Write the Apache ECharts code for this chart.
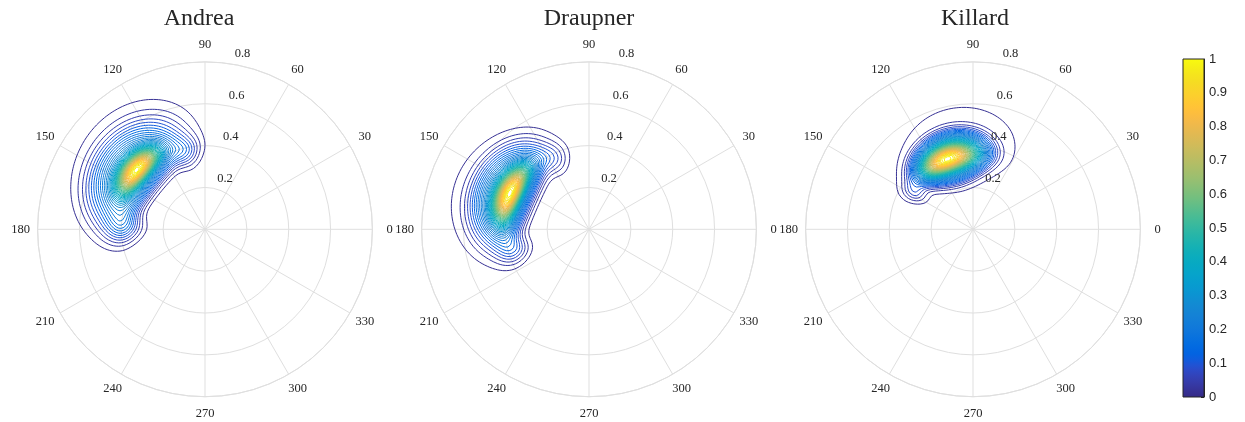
<!DOCTYPE html>
<html>
<head>
<meta charset="utf-8">
<script src="https://cdn.jsdelivr.net/npm/echarts@6/dist/echarts.min.js"></script>
<style>html,body{margin:0;padding:0;background:#fff}#c{width:1245px;height:422px}</style>
</head>
<body>
<div id="c"></div>
<script>
// ---------------- data ----------------
const plotTitles = ['Andrea', 'Draupner', 'Killard'];
const radiusTicks = [0.2, 0.4, 0.6, 0.8];
const contourLevels = [0.02,0.04,0.06,0.08,0.10,0.12,0.14,0.16,0.18,0.20,0.22,0.24,0.26,0.28,0.30,0.32,0.34,0.36,0.38,0.40,
  0.42,0.44,0.46,0.48,0.50,0.52,0.54,0.56,0.58,0.60,0.62,0.64,0.66,0.68,0.70,0.72,0.74,0.76,0.78,0.80,
  0.82,0.84,0.86,0.88,0.90,0.92,0.94,0.96,0.98];
// density kernels:
// [angle (deg), radius, angular spread (deg), inner radial spread, outer radial spread, weight, shape]
const andreaKernels = [
  [139, 0.432, 11, 0.034, 0.040, 0.70, 2],
  [142, 0.420, 27, 0.080, 0.140, 0.30, 3],
  [135, 0.550, 22, 0.120, 0.120, 0.05, 2],
  [178, 0.390, 8, 0.060, 0.060, 0.11, 2],
  [104, 0.380, 7, 0.050, 0.050, 0.08, 2]
];
const draupnerKernels = [
  [155.5, 0.415, 13, 0.035, 0.040, 0.70, 2],
  [156, 0.420, 26, 0.085, 0.118, 0.30, 3],
  [160, 0.530, 22, 0.120, 0.120, 0.04, 2],
  [195, 0.370, 7, 0.050, 0.055, 0.09, 2],
  [116, 0.370, 7, 0.050, 0.050, 0.06, 2]
];
const killardKernels = [
  [110, 0.357, 14, 0.038, 0.042, 0.70, 2],
  [107, 0.360, 25, 0.100, 0.100, 0.30, 4],
  [100, 0.400, 30, 0.150, 0.150, 0.045, 2],
  [148, 0.330, 5, 0.040, 0.040, 0.07, 2]
];
const plotKernels = [andreaKernels, draupnerKernels, killardKernels];

// ---------------- style ----------------
const parula = [
[0.2081,0.1663,0.5292],[0.2116,0.1898,0.5777],[0.2123,0.2138,0.6270],[0.2081,0.2386,0.6771],
[0.1959,0.2645,0.7279],[0.1707,0.2919,0.7792],[0.1253,0.3242,0.8303],[0.0591,0.3598,0.8683],
[0.0117,0.3875,0.8820],[0.0060,0.4086,0.8828],[0.0165,0.4266,0.8786],[0.0329,0.4430,0.8720],
[0.0498,0.4586,0.8641],[0.0629,0.4737,0.8554],[0.0723,0.4887,0.8467],[0.0779,0.5040,0.8384],
[0.0793,0.5200,0.8312],[0.0749,0.5375,0.8263],[0.0641,0.5570,0.8240],[0.0488,0.5772,0.8228],
[0.0343,0.5966,0.8199],[0.0265,0.6137,0.8135],[0.0239,0.6287,0.8038],[0.0231,0.6418,0.7913],
[0.0228,0.6535,0.7768],[0.0267,0.6642,0.7607],[0.0384,0.6743,0.7436],[0.0590,0.6838,0.7254],
[0.0843,0.6928,0.7062],[0.1133,0.7015,0.6859],[0.1453,0.7098,0.6646],[0.1801,0.7177,0.6424],
[0.2178,0.7250,0.6193],[0.2586,0.7317,0.5954],[0.3022,0.7376,0.5712],[0.3482,0.7424,0.5473],
[0.3953,0.7459,0.5244],[0.4420,0.7481,0.5033],[0.4871,0.7491,0.4840],[0.5300,0.7491,0.4661],
[0.5709,0.7485,0.4494],[0.6099,0.7473,0.4337],[0.6473,0.7456,0.4188],[0.6834,0.7435,0.4044],
[0.7184,0.7411,0.3905],[0.7525,0.7384,0.3768],[0.7858,0.7356,0.3633],[0.8185,0.7327,0.3498],
[0.8507,0.7299,0.3360],[0.8824,0.7274,0.3217],[0.9139,0.7258,0.3063],[0.9450,0.7261,0.2886],
[0.9739,0.7314,0.2666],[0.9938,0.7455,0.2403],[0.9990,0.7653,0.2164],[0.9955,0.7861,0.1967],
[0.9880,0.8066,0.1794],[0.9789,0.8271,0.1633],[0.9697,0.8481,0.1475],[0.9626,0.8705,0.1309],
[0.9589,0.8949,0.1132],[0.9598,0.9218,0.0948],[0.9661,0.9514,0.0755],[0.9763,0.9831,0.0538]];
const toHex = c => '#' + c.map(v => Math.round(v * 255).toString(16).padStart(2, '0')).join('');
const colorOf = v => toHex(parula[Math.min(63, Math.max(0, Math.floor(v * 64)))]);

const centersX = [205, 589, 973];
const titleX = [199, 589, 975];
const centerY = 229.3;
const R = 167.4;
const gridColor = '#dfdfdf';
const textColor = '#262626';
const serif = 'Liberation Serif, Times New Roman, serif';

// ---------------- density + contours ----------------
function density(kernels, x, y) {
  const r = Math.hypot(x, y);
  let t = Math.atan2(y, x) * 180 / Math.PI; if (t < 0) t += 360;
  let s = 0;
  for (const k of kernels) {
    const dt = (((t - k[0]) % 360) + 540) % 360 - 180;
    const dr = r - k[1];
    const sr = dr < 0 ? k[3] : k[4];
    const q2 = (dt / k[2]) ** 2 + (dr / sr) ** 2;
    s += k[5] * Math.exp(-0.5 * Math.pow(q2, k[6] / 2));
  }
  return s;
}
const N = 261;
const xs = []; for (let i = 0; i < N; i++) xs.push(-0.8 + i * 1.6 / (N - 1));

function traceContours(field, level) {
  const pts = new Map(), adj = new Map();
  const pt = (key, x1, y1, v1, x2, y2, v2) => {
    if (!pts.has(key)) { const t = (level - v1) / (v2 - v1); pts.set(key, [x1 + t * (x2 - x1), y1 + t * (y2 - y1)]); }
  };
  const link = (a, b) => {
    if (!adj.has(a)) adj.set(a, []); if (!adj.has(b)) adj.set(b, []);
    adj.get(a).push(b); adj.get(b).push(a);
  };
  for (let j = 0; j < N - 1; j++) for (let i = 0; i < N - 1; i++) {
    const v0 = field[j * N + i], v1 = field[j * N + i + 1], v2 = field[(j + 1) * N + i + 1], v3 = field[(j + 1) * N + i];
    const c = (v0 >= level ? 1 : 0) | (v1 >= level ? 2 : 0) | (v2 >= level ? 4 : 0) | (v3 >= level ? 8 : 0);
    if (c === 0 || c === 15) continue;
    const x0 = xs[i], x1 = xs[i + 1], y0 = xs[j], y1 = xs[j + 1];
    const B = 'h' + i + '_' + j, Rr = 'v' + (i + 1) + '_' + j, T = 'h' + i + '_' + (j + 1), L = 'v' + i + '_' + j;
    const e = [];
    if (!!(c & 1) !== !!(c & 2)) { pt(B, x0, y0, v0, x1, y0, v1); e.push(B); }
    if (!!(c & 2) !== !!(c & 4)) { pt(Rr, x1, y0, v1, x1, y1, v2); e.push(Rr); }
    if (!!(c & 4) !== !!(c & 8)) { pt(T, x0, y1, v3, x1, y1, v2); e.push(T); }
    if (!!(c & 8) !== !!(c & 1)) { pt(L, x0, y0, v0, x0, y1, v3); e.push(L); }
    if (e.length === 2) link(e[0], e[1]);
    else if (e.length === 4) {
      const ctr = (v0 + v1 + v2 + v3) / 4;
      if (c === 5) { if (ctr >= level) { link(B, Rr); link(T, L); } else { link(L, B); link(Rr, T); } }
      else { if (ctr >= level) { link(L, B); link(Rr, T); } else { link(B, Rr); link(T, L); } }
    }
  }
  const visited = new Set(), lines = [];
  const walk = start => {
    const path = [start]; visited.add(start); let prev = null, cur = start;
    while (true) {
      const nb = adj.get(cur); let next = null;
      for (const n of nb) if (n !== prev && !visited.has(n)) { next = n; break; }
      if (next === null) { if (path.length > 2 && nb.includes(start)) path.push(start); break; }
      path.push(next); visited.add(next); prev = cur; cur = next;
    }
    return path.map(k => pts.get(k));
  };
  for (const [k, nb] of adj) if (nb.length === 1 && !visited.has(k)) lines.push(walk(k));
  for (const [k] of adj) if (!visited.has(k)) lines.push(walk(k));
  return lines;
}

const series = [];
plotKernels.forEach((kernels, p) => {
  const field = new Float64Array(N * N);
  let mx = 0;
  for (let j = 0; j < N; j++) for (let i = 0; i < N; i++) {
    const v = density(kernels, xs[i], xs[j]); field[j * N + i] = v; if (v > mx) mx = v;
  }
  for (let q = 0; q < field.length; q++) field[q] /= mx;
  contourLevels.forEach(lv => {
    traceContours(field, lv).forEach(line => {
      series.push({
        type: 'line', coordinateSystem: 'polar', polarIndex: p,
        data: line.map(([x, y]) => [Math.hypot(x, y), (Math.atan2(y, x) * 180 / Math.PI + 360) % 360]),
        showSymbol: false, symbol: 'none', silent: true, animation: false, z: 3,
        lineStyle: { width: 1, color: colorOf(lv) }
      });
    });
  });
});

const gradStops = parula.map((c, i) => ({ offset: i / 63, color: toHex(c) }));
series.push({
  type: 'bar', xAxisIndex: 0, yAxisIndex: 0, data: [1], barWidth: '100%', silent: true, animation: false,
  itemStyle: { color: new echarts.graphic.LinearGradient(0, 1, 0, 0, gradStops) }
});

const labelRich = { c: { width: 1, height: 1, lineHeight: 1, align: 'center', verticalAlign: 'middle',
  color: textColor, fontFamily: serif, fontSize: 12.5 } };
const polar = [], angleAxis = [], radiusAxis = [];
centersX.forEach((cx, i) => {
  polar.push({ center: [cx, centerY], radius: R });
  angleAxis.push({
    polarIndex: i, type: 'value', min: 0, max: 360, interval: 30, startAngle: 0, clockwise: false,
    axisLine: { lineStyle: { color: gridColor, width: 1 } }, axisTick: { show: false },
    axisLabel: { margin: 16.6, formatter: '{c|{value}}', rich: labelRich },
    splitLine: { show: true, lineStyle: { color: gridColor, width: 1 } }
  });
  radiusAxis.push({
    polarIndex: i, type: 'value', min: 0, max: 0.8, interval: 0.2,
    axisLine: { show: false }, axisTick: { show: false }, axisLabel: { show: false },
    splitLine: { show: true, lineStyle: { color: gridColor, width: 1 } }
  });
});
centersX.forEach((cx, i) => {
  polar.push({ center: [cx, centerY], radius: 178.8 });
  angleAxis.push({ polarIndex: 3 + i, type: 'value', min: 0, max: 360, startAngle: 82, clockwise: false, show: false });
  radiusAxis.push({
    polarIndex: 3 + i, type: 'value', min: -0.0545, max: 0.8, z: 5,
    axisLine: { show: false }, axisTick: { show: false }, splitLine: { show: false },
    axisLabel: { customValues: radiusTicks, margin: -12.7, color: textColor, fontFamily: serif, fontSize: 12.5, align: 'center', verticalAlign: 'middle' }
  });
});

const chart = echarts.init(document.getElementById('c'), null, { renderer: 'canvas' });
chart.setOption({
  animation: false,
  backgroundColor: '#ffffff',
  title: plotTitles.map((t, i) => ({
    text: t, left: titleX[i], top: 7, padding: 0, textAlign: 'center',
    textStyle: { fontFamily: serif, fontSize: 24, fontWeight: 'normal', color: textColor }
  })),
  polar, angleAxis, radiusAxis,
  grid: [{ left: 1183, top: 59, width: 21, height: 338, show: true, borderColor: textColor, borderWidth: 1, z: 3 }],
  xAxis: [{ gridIndex: 0, type: 'category', data: ['c'], show: false }],
  yAxis: [{
    gridIndex: 0, type: 'value', min: 0, max: 1, interval: 0.1, position: 'right',
    axisLine: { show: true, lineStyle: { color: textColor } },
    axisTick: { show: true, inside: true, length: 3, lineStyle: { color: textColor } },
    axisLabel: { margin: 5, color: textColor, fontFamily: 'Liberation Sans, Arial, sans-serif', fontSize: 13 },
    splitLine: { show: false }
  }],
  series
});
</script>
</body>
</html>
